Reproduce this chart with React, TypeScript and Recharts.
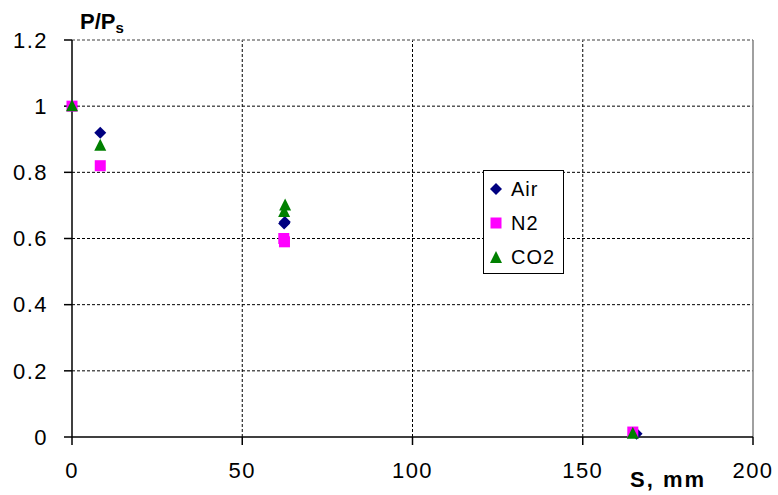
import React from 'react';
import { ScatterChart, Scatter, XAxis, YAxis, ReferenceLine } from 'recharts';

interface Pt {
  s: number;
  p: number;
}

const airData: Pt[] = [
  { s: 0, p: 1.0 },
  { s: 8.3, p: 0.92 },
  { s: 62.3, p: 0.645 },
  { s: 62.5, p: 0.65 },
  { s: 165.8, p: 0.01 },
];
const n2Data: Pt[] = [
  { s: 0, p: 1.0 },
  { s: 8.3, p: 0.82 },
  { s: 62.2, p: 0.6 },
  { s: 62.4, p: 0.59 },
  { s: 164.7, p: 0.015 },
];
const co2Data: Pt[] = [
  { s: 0, p: 1.0 },
  { s: 8.3, p: 0.88 },
  { s: 62.3, p: 0.68 },
  { s: 62.6, p: 0.7 },
  { s: 164.7, p: 0.01 },
];

const xTicks = [0, 50, 100, 150, 200];
const yTicks = [0, 0.2, 0.4, 0.6, 0.8, 1, 1.2];
const xGrid = [50, 100, 150];
const yGrid = [0.2, 0.4, 0.6, 0.8, 1];

const FONT = '"Liberation Sans", Arial, sans-serif';
const NAVY = '#000080';
const MAGENTA = '#FF00FF';
const GREEN = '#008000';

const Diamond = (props: any) => {
  const { cx, cy } = props;
  const r = 6;
  return (
    <polygon
      points={`${cx},${cy - r} ${cx + r},${cy} ${cx},${cy + r} ${cx - r},${cy}`}
      fill={NAVY}
    />
  );
};

const Square = (props: any) => {
  const { cx, cy } = props;
  return <rect x={cx - 5.5} y={cy - 5.5} width={11} height={11} fill={MAGENTA} />;
};

const Triangle = (props: any) => {
  const { cx, cy } = props;
  return (
    <polygon
      points={`${cx},${cy - 7} ${cx + 6},${cy + 5} ${cx - 6},${cy + 5}`}
      fill={GREEN}
    />
  );
};

const legendItems = [
  { name: 'Air', icon: 'diamond' },
  { name: 'N2', icon: 'square' },
  { name: 'CO2', icon: 'triangle' },
];

// legend box sits inside the plot, like the Excel original
const LegendBox = () => (
  <div
    style={{
      position: 'absolute',
      left: 483,
      top: 170,
      border: '1px solid #000',
      background: '#fff',
      width: 79,
      height: 101,
      fontFamily: FONT,
      fontSize: 20,
      letterSpacing: 1,
      paddingTop: 1,
    }}
  >
    {legendItems.map((it) => (
      <div key={it.name} style={{ display: 'flex', alignItems: 'center', height: 34 }}>
        <svg width={25} height={20} style={{ flexShrink: 0 }}>
          {it.icon === 'diamond' && <Diamond cx={12} cy={10} />}
          {it.icon === 'square' && <Square cx={12} cy={10} />}
          {it.icon === 'triangle' && <Triangle cx={12} cy={11} />}
        </svg>
        <span style={{ color: '#000', marginLeft: 2 }}>{it.name}</span>
      </div>
    ))}
  </div>
);

const YTitle = () => (
  <text x={80} y={29} fontFamily={FONT} fontWeight="bold" fontSize={22} fill="#000">
    P/P
    <tspan fontSize={15} dy={4}>
      s
    </tspan>
  </text>
);

const XTitle = () => (
  <text
    x={630}
    y={487}
    fontFamily={FONT}
    fontWeight="bold"
    fontSize={22}
    letterSpacing={2}
    fill="#000"
  >
    S, mm
  </text>
);

export default function App() {
  return (
    <div style={{ position: 'absolute', left: 0, top: 0, width: 778, height: 495, background: '#fff' }}>
      <ScatterChart
        width={778}
        height={495}
        margin={{ top: 40, right: 25, left: 12, bottom: 28 }}
      >
        <XAxis
          type="number"
          dataKey="s"
          domain={[0, 200]}
          ticks={xTicks}
          interval={0}
          height={30}
          tickSize={8}
          tickMargin={17}
          stroke="#000"
          axisLine={{ stroke: '#000', strokeWidth: 1.5 }}
          tickLine={{ stroke: '#000', strokeWidth: 1.5 }}
          tick={{ fill: '#000', fontSize: 22, fontFamily: FONT, letterSpacing: 1.5 }}
          label={{ content: () => <XTitle /> }}
        />
        <YAxis
          type="number"
          dataKey="p"
          domain={[0, 1.2]}
          ticks={yTicks}
          interval={0}
          width={60}
          tickSize={8}
          tickMargin={16}
          stroke="#000"
          axisLine={{ stroke: '#000', strokeWidth: 1.5 }}
          tickLine={{ stroke: '#000', strokeWidth: 1.5 }}
          tick={{ fill: '#000', fontSize: 22, fontFamily: FONT, letterSpacing: 1.5 }}
          label={{ content: () => <YTitle /> }}
        />
        {yGrid.map((v) => (
          <ReferenceLine key={`y${v}`} y={v} stroke="#000" strokeDasharray="3 2" />
        ))}
        {xGrid.map((v) => (
          <ReferenceLine key={`x${v}`} x={v} stroke="#000" strokeDasharray="3 2" />
        ))}
        <ReferenceLine y={1.2} stroke="#808080" strokeWidth={1.5} strokeDasharray="3 2" />
        <ReferenceLine x={200} stroke="#808080" strokeWidth={1.5} />
        <Scatter name="Air" data={airData} fill={NAVY} shape={Diamond} isAnimationActive={false} />
        <Scatter name="N2" data={n2Data} fill={MAGENTA} shape={Square} isAnimationActive={false} />
        <Scatter name="CO2" data={co2Data} fill={GREEN} shape={Triangle} isAnimationActive={false} />
      </ScatterChart>
      <LegendBox />
    </div>
  );
}
